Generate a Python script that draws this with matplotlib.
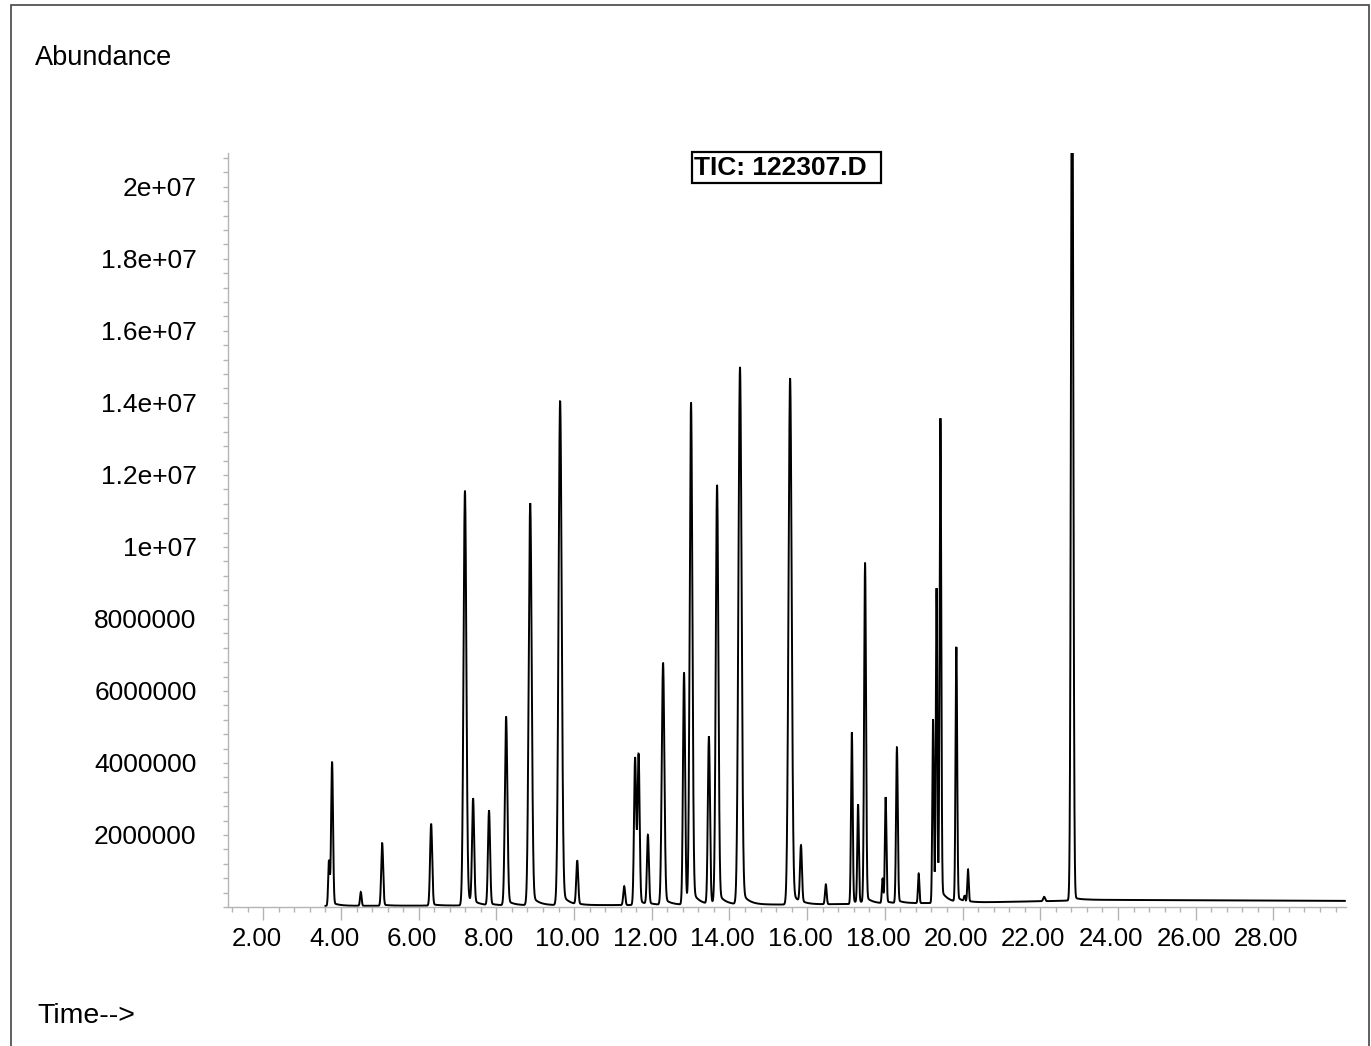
import numpy as np
import matplotlib
matplotlib.use("Agg")
import matplotlib.pyplot as plt
from matplotlib.patches import Rectangle
from matplotlib.ticker import FixedLocator, MultipleLocator
from matplotlib.transforms import ScaledTranslation

# ---------------- data ----------------
# retention time (min), peak height (abundance), peak sigma (min), tail fraction
peak_times = [3.69, 3.77, 4.51, 5.06, 6.32, 7.19, 7.40, 7.81, 8.25, 8.87,
              9.64, 10.08, 11.29, 11.57, 11.66, 11.90, 12.29, 12.83, 13.01, 13.47,
              13.68, 14.27, 15.56, 15.84, 16.48, 17.15, 17.31, 17.49, 17.94, 18.02,
              18.31, 18.87, 19.24, 19.33, 19.43, 19.84, 20.05, 20.14, 22.10, 22.82]
peak_heights = [1.25e6, 3.95e6, 0.38e6, 1.72e6, 2.25e6, 11.35e6, 2.85e6, 2.6e6, 5.15e6, 11.0e6,
                13.8e6, 1.2e6, 0.52e6, 4.05e6, 4.1e6, 1.9e6, 6.62e6, 6.38e6, 13.7e6, 4.6e6,
                11.45e6, 14.7e6, 14.4e6, 1.55e6, 0.55e6, 4.72e6, 2.7e6, 9.35e6, 0.68e6, 2.92e6,
                4.28e6, 0.82e6, 5.05e6, 8.6e6, 13.2e6, 7.0e6, 0.15e6, 0.88e6, 0.12e6, 26.0e6]
peak_sigmas = [0.02, 0.024, 0.02, 0.025, 0.027, 0.036, 0.027, 0.027, 0.032, 0.038,
               0.04, 0.025, 0.024, 0.027, 0.027, 0.025, 0.033, 0.027, 0.034, 0.027,
               0.033, 0.04, 0.04, 0.025, 0.021, 0.021, 0.02, 0.024, 0.018, 0.02,
               0.022, 0.018, 0.019, 0.019, 0.021, 0.021, 0.016, 0.018, 0.025, 0.028]
peak_tails = [0.02, 0.02, 0.0, 0.02, 0.02, 0.03, 0.02, 0.02, 0.03, 0.03,
              0.03, 0.02, 0.0, 0.02, 0.02, 0.02, 0.03, 0.02, 0.03, 0.02,
              0.03, 0.03, 0.03, 0.02, 0.0, 0.02, 0.02, 0.02, 0.0, 0.02,
              0.02, 0.0, 0.02, 0.02, 0.02, 0.02, 0.0, 0.02, 0.0, 0.004]
baseline_times = [3.6, 10.0, 16.0, 20.0, 22.5, 23.2, 29.84]
baseline_levels = [0.03e6, 0.05e6, 0.07e6, 0.12e6, 0.17e6, 0.20e6, 0.17e6]

x_tick_values = [2, 4, 6, 8, 10, 12, 14, 16, 18, 20, 22, 24, 26, 28]
x_tick_labels = ["2.00", "4.00", "6.00", "8.00", "10.00", "12.00", "14.00",
                 "16.00", "18.00", "20.00", "22.00", "24.00", "26.00", "28.00"]
y_tick_values = [2e6, 4e6, 6e6, 8e6, 1e7, 1.2e7, 1.4e7, 1.6e7, 1.8e7, 2e7]
y_tick_labels = ["2000000", "4000000", "6000000", "8000000", "1e+07", "1.2e+07",
                 "1.4e+07", "1.6e+07", "1.8e+07", "2e+07"]

# ---------------- build trace ----------------
t = np.linspace(3.6, 29.84, 30000)
signal = np.interp(t, baseline_times, baseline_levels)
tau = 0.17
for t0, h, s, tf in zip(peak_times, peak_heights, peak_sigmas, peak_tails):
    g = np.exp(-0.5 * ((t - t0) / s) ** 2)
    step = 1.0 / (1.0 + np.exp(-(t - t0) / (0.6 * s)))
    tail = tf * np.exp(-np.clip(t - t0, 0, None) / tau) * step
    signal += h * (g + tail)

# ---------------- fonts ----------------
plt.rcParams["font.family"] = ["Liberation Sans", "DejaVu Sans"]

W, H = 1371, 1046
fig = plt.figure(figsize=(W / 100, H / 100), dpi=100)
ax = fig.add_axes([228 / W, 1 - 907 / H, (1346 - 228) / W, (907 - 153) / H])

ax.plot(t, signal, color="black", lw=1.4, solid_joinstyle="miter")
ax.set_xlim(1.091, 29.87)
ax.set_ylim(0, 2.094e7)

grey = "#b4b4b4"
for side in ("top", "right"):
    ax.spines[side].set_visible(False)
for side in ("left", "bottom"):
    ax.spines[side].set_color(grey)
    ax.spines[side].set_linewidth(1.0)

ax.xaxis.set_major_locator(FixedLocator(x_tick_values))
ax.set_xticklabels(x_tick_labels)
ax.xaxis.set_minor_locator(MultipleLocator(0.4))
ax.yaxis.set_major_locator(FixedLocator(y_tick_values))
ax.set_yticklabels(y_tick_labels)
ax.yaxis.set_minor_locator(MultipleLocator(4e5))

ax.tick_params(axis="x", which="major", length=9.5, width=1.0, color=grey,
               labelsize=18.6, pad=5)
ax.tick_params(axis="x", which="minor", length=3.6, width=1.0, color=grey)
ax.tick_params(axis="y", which="both", length=3.6, width=1.0, color=grey,
               labelsize=19, pad=19)

off = ScaledTranslation(-7 / 100, 0, fig.dpi_scale_trans)
for lab in ax.get_xticklabels():
    lab.set_transform(lab.get_transform() + off)

# ---------------- texts ----------------
fig.text(35 / W, 1 - 65 / H, "Abundance", fontsize=19.5, ha="left", va="baseline")
fig.text(37 / W, 1 - 1023 / H, "Time-->", fontsize=20.5, ha="left", va="baseline")
fig.text(694 / W, 1 - 175 / H, "TIC: 122307.D", fontsize=19, fontweight="bold",
         ha="left", va="baseline")
fig.patches.append(Rectangle((692 / W, 1 - 183 / H), 189 / W, 31 / H,
                             transform=fig.transFigure, fill=False,
                             edgecolor="black", lw=1.6))
# outer frame
fig.patches.append(Rectangle((11 / W, -10 / H), (1369 - 11) / W, (1041 + 10) / H,
                             transform=fig.transFigure, fill=False,
                             edgecolor="#444444", lw=1.2))

fig.savefig("out.png", dpi=100)
